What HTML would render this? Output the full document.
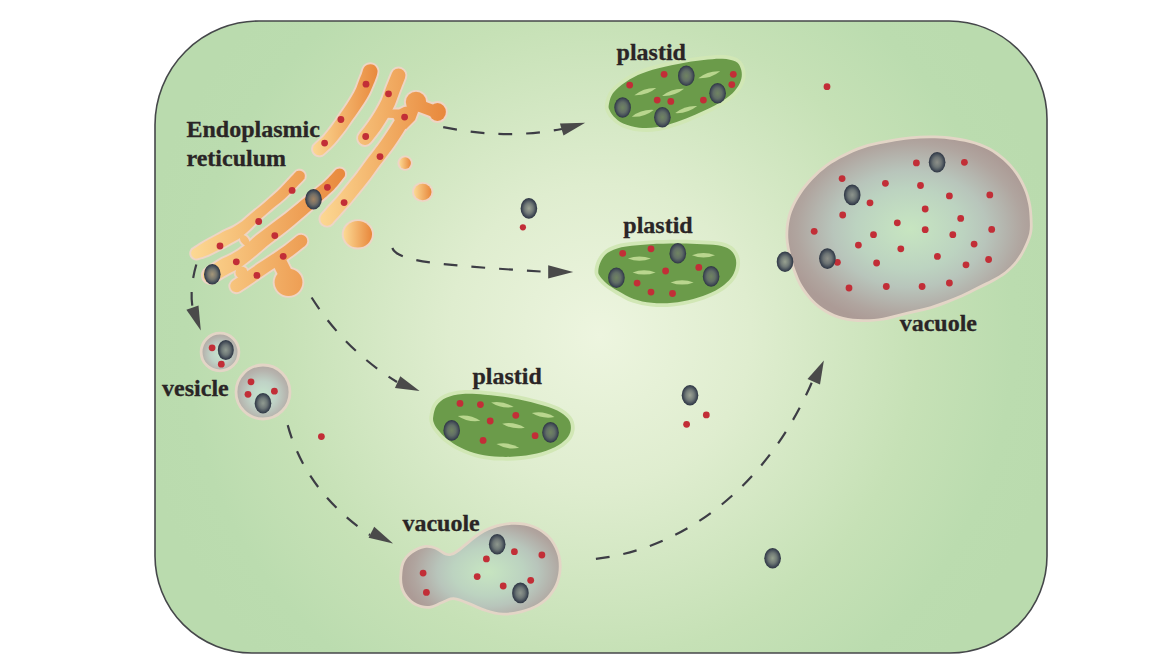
<!DOCTYPE html>
<html><head><meta charset="utf-8"><title>Cell diagram</title>
<style>html,body{margin:0;padding:0;background:#fff;}svg{display:block;font-family:"Liberation Serif",serif;}</style>
</head><body>
<svg width="1161" height="670" viewBox="0 0 1161 670">
<defs>
<radialGradient id="bg" gradientUnits="userSpaceOnUse" cx="600" cy="335" r="470">
  <stop offset="0" stop-color="#edf5df"/>
  <stop offset="0.32" stop-color="#dfedcf"/>
  <stop offset="0.68" stop-color="#c6e1b6"/>
  <stop offset="0.88" stop-color="#bbdcaf"/>
  <stop offset="1" stop-color="#badbae"/>
</radialGradient>
<radialGradient id="gran" cx="0.5" cy="0.5" r="0.5">
  <stop offset="0" stop-color="#727570" stop-opacity="0.62"/>
  <stop offset="0.5" stop-color="#60686a" stop-opacity="0.86"/>
  <stop offset="0.82" stop-color="#434c57"/>
  <stop offset="1" stop-color="#2d3542"/>
</radialGradient>
<linearGradient id="er" x1="0" y1="0.5" x2="1" y2="0.5">
  <stop offset="0" stop-color="#fcd994"/>
  <stop offset="1" stop-color="#e8873b"/>
</linearGradient>
<linearGradient id="erA" gradientUnits="userSpaceOnUse" x1="311" y1="0" x2="379" y2="0">
  <stop offset="0" stop-color="#fcd994"/>
  <stop offset="1" stop-color="#e8873b"/>
</linearGradient>
<linearGradient id="erB" gradientUnits="userSpaceOnUse" x1="318" y1="0" x2="447" y2="0">
  <stop offset="0" stop-color="#fcd994"/>
  <stop offset="1" stop-color="#e8873b"/>
</linearGradient>
<linearGradient id="erL" gradientUnits="userSpaceOnUse" x1="190" y1="0" x2="348" y2="0">
  <stop offset="0" stop-color="#fcd994"/>
  <stop offset="1" stop-color="#e8873b"/>
</linearGradient>
<radialGradient id="vac" gradientUnits="userSpaceOnUse" cx="910" cy="229" r="128" gradientTransform="translate(910 229) scale(1 0.76) translate(-910 -229)">
  <stop offset="0" stop-color="#c7e5c0"/>
  <stop offset="0.15" stop-color="#c3dfc1"/>
  <stop offset="0.42" stop-color="#bcd3c0"/>
  <stop offset="0.6" stop-color="#b8c5bb"/>
  <stop offset="0.75" stop-color="#b4b4ad"/>
  <stop offset="0.88" stop-color="#b0a59f"/>
  <stop offset="1" stop-color="#ac9b96"/>
</radialGradient>
<radialGradient id="vac2" gradientUnits="userSpaceOnUse" cx="488" cy="572" r="84" gradientTransform="translate(488 572) scale(1 0.68) translate(-488 -572)">
  <stop offset="0" stop-color="#c7e5c0"/>
  <stop offset="0.15" stop-color="#c3dfc1"/>
  <stop offset="0.42" stop-color="#bcd3c0"/>
  <stop offset="0.6" stop-color="#b8c5bb"/>
  <stop offset="0.75" stop-color="#b4b4ad"/>
  <stop offset="0.88" stop-color="#b0a59f"/>
  <stop offset="1" stop-color="#ac9b96"/>
</radialGradient>
<radialGradient id="ves" cx="0.5" cy="0.55" r="0.55">
  <stop offset="0" stop-color="#c6e4cc"/>
  <stop offset="0.45" stop-color="#bfd2c6"/>
  <stop offset="0.8" stop-color="#b6b4ae"/>
  <stop offset="1" stop-color="#b1a8a2"/>
</radialGradient>
</defs>
<path d="M259,21 L949,21 A98,98 0 0 1 1047,119 L1047,556 A97,97 0 0 1 950,653 L252,653 A97,97 0 0 1 155,556 L155,125 A104,104 0 0 1 259,21Z" fill="url(#bg)" stroke="#45474a" stroke-width="1.6"/>
<g><path d="M381,111 L392,109.5 L399,109.5 L404,107 L410,106 L418,112 L415,120 L406,129 L398,126 L393.5,118 L382,117.5Z" fill="#eed5c5" stroke="#eed5c5" stroke-width="3.8" stroke-linejoin="round"/>
<path d="M324.9,155.0 C327.2,153.1 331.9,149.0 335.5,145.0 C339.1,141.0 343.7,134.9 346.7,131.0 C349.7,127.1 351.3,124.4 353.5,121.3 C355.6,118.3 357.6,115.7 359.6,112.8 C361.6,109.9 363.7,106.9 365.5,104.0 C367.3,101.1 369.1,98.4 370.6,95.4 C372.1,92.5 373.4,89.2 374.6,86.5 C375.7,83.8 376.7,81.2 377.5,79.2 C378.2,77.1 378.7,75.8 379.0,74.2 C379.3,72.7 379.5,71.5 379.3,70.1 C379.2,68.8 378.6,67.4 377.9,66.3 C377.1,65.2 376.0,64.2 374.8,63.5 C373.7,62.8 372.2,62.4 370.9,62.3 C369.6,62.2 368.1,62.4 366.8,62.9 C365.6,63.4 364.3,64.2 363.4,65.2 C362.5,66.2 361.9,67.5 361.4,68.8 C360.8,70.0 360.8,71.0 360.1,72.8 C359.5,74.6 358.4,77.1 357.4,79.5 C356.5,82.0 355.6,85.0 354.4,87.6 C353.2,90.1 352.0,92.4 350.5,95.0 C349.0,97.6 347.2,100.4 345.4,103.2 C343.5,106.0 341.5,108.7 339.5,111.7 C337.5,114.6 336.0,117.3 333.3,121.0 C330.6,124.7 326.6,130.3 323.3,134.0 C320.0,137.7 315.6,141.1 313.7,143.2 C311.7,145.2 312.1,145.1 311.6,146.2 C311.2,147.3 311.0,148.6 311.1,149.8 C311.2,151.0 311.6,152.3 312.2,153.3 C312.9,154.3 313.8,155.3 314.8,155.9 C315.8,156.6 317.0,157.1 318.2,157.2 C319.4,157.4 320.7,157.3 321.8,156.9 C322.9,156.5 322.7,157.0 324.9,155.0Z" fill="#eed5c5"/>
<path d="M215.5,283.4 C218.4,281.9 224.6,278.1 228.9,275.7 C233.3,273.3 237.3,271.6 241.6,268.8 C245.9,266.0 250.3,262.4 254.7,258.8 C259.2,255.2 263.7,250.9 268.3,247.2 C272.9,243.5 277.9,239.9 282.5,236.4 C287.1,232.9 291.4,229.4 295.6,225.9 C299.8,222.5 303.7,219.1 307.6,215.7 C311.5,212.3 314.7,209.5 318.9,205.8 C323.1,202.0 329.3,196.6 332.8,193.2 C336.3,189.9 337.7,188.1 339.7,185.7 C341.8,183.3 344.1,180.5 345.2,178.8 C346.4,177.2 346.5,176.9 346.8,175.9 C347.0,174.8 347.1,173.6 346.9,172.5 C346.6,171.5 346.1,170.4 345.5,169.5 C344.8,168.6 343.9,167.8 342.9,167.3 C342.0,166.8 340.8,166.5 339.7,166.5 C338.6,166.5 337.4,166.7 336.4,167.2 C335.5,167.6 335.1,167.8 333.8,169.2 C332.4,170.5 330.2,173.2 328.3,175.3 C326.3,177.3 325.4,178.5 322.0,181.4 C318.6,184.3 312.1,189.4 307.9,192.8 C303.6,196.3 300.3,199.1 296.4,202.3 C292.5,205.5 288.6,208.6 284.4,211.9 C280.2,215.1 275.9,218.3 271.3,221.8 C266.7,225.3 261.4,229.0 256.7,232.8 C252.0,236.5 247.5,241.0 243.3,244.2 C239.0,247.5 235.4,249.9 231.4,252.2 C227.3,254.6 223.4,255.8 219.1,258.3 C214.7,260.8 208.3,265.2 205.5,267.2 C202.8,269.2 203.2,269.0 202.5,270.2 C201.8,271.3 201.2,272.8 201.1,274.1 C200.9,275.5 201.1,277.0 201.5,278.4 C201.9,279.7 202.8,281.0 203.7,282.0 C204.7,282.9 206.0,283.8 207.3,284.2 C208.6,284.7 210.1,284.9 211.5,284.8 C212.8,284.6 212.6,284.9 215.5,283.4Z" fill="#eed5c5"/>
<path d="M199.6,259.8 C201.7,259.2 204.9,258.4 208.8,256.7 C212.7,255.0 219.2,251.6 223.1,249.6 C227.0,247.6 229.1,246.5 232.1,244.7 C235.2,243.0 238.3,241.5 241.4,239.3 C244.6,237.0 247.9,234.0 250.8,231.2 C253.8,228.5 256.3,225.4 259.2,222.7 C262.0,220.0 264.8,217.7 267.8,215.1 C270.7,212.6 273.7,210.0 276.8,207.4 C279.8,204.9 283.0,202.6 286.1,199.8 C289.1,197.1 292.1,194.2 295.2,191.1 C298.3,187.9 302.9,183.1 304.8,181.0 C306.6,178.9 306.1,179.2 306.4,178.2 C306.7,177.2 306.8,176.0 306.7,175.0 C306.5,174.0 306.1,172.9 305.5,172.0 C305.0,171.1 304.1,170.3 303.2,169.8 C302.3,169.2 301.2,168.9 300.1,168.8 C299.1,168.7 297.9,168.8 296.9,169.2 C296.0,169.6 296.3,169.1 294.2,171.0 C292.2,173.0 287.8,177.9 284.8,180.9 C281.9,184.0 279.3,186.9 276.5,189.6 C273.7,192.3 270.9,194.6 268.0,197.2 C265.1,199.7 262.1,202.3 259.0,204.9 C256.0,207.4 252.8,209.8 249.8,212.3 C246.9,214.8 244.0,217.6 241.2,219.8 C238.3,222.0 235.4,223.8 232.6,225.3 C229.7,226.9 226.8,227.8 223.9,229.3 C220.9,230.7 218.7,232.1 214.9,234.2 C211.1,236.2 204.8,239.6 201.2,241.7 C197.6,243.8 195.1,245.6 193.4,246.8 C191.6,247.9 191.5,248.0 190.8,248.8 C190.2,249.6 189.7,250.7 189.4,251.7 C189.2,252.7 189.2,253.9 189.4,254.9 C189.7,255.9 190.2,257.0 190.8,257.8 C191.5,258.6 192.4,259.4 193.4,259.8 C194.3,260.3 195.5,260.6 196.5,260.5 C197.6,260.5 197.6,260.5 199.6,259.8Z" fill="#eed5c5"/>
<ellipse cx="244.7" cy="240.3" rx="8.1" ry="5.699999999999999" transform="rotate(53 244.7 240.3)" fill="#eed5c5"/>
<path d="M398.5,75.5 C398.0,76.8 396.6,80.2 395.5,83.0 C394.4,85.8 393.2,88.7 392.0,92.0 C390.8,95.3 389.7,99.1 388.0,102.8 C386.3,106.5 384.2,110.3 382.0,114.0 C379.8,117.7 377.2,121.8 375.0,125.0 C372.8,128.2 370.7,130.8 369.0,133.0 C367.3,135.2 365.7,137.2 365.0,138.0" fill="none" stroke="#eed5c5" stroke-width="17.8" stroke-linecap="round" stroke-linejoin="round"/>
<path d="M404.0,118.0 C402.7,120.2 399.1,126.2 396.0,131.0 C392.9,135.8 389.2,141.4 385.5,146.5 C381.8,151.6 377.8,156.4 374.0,161.5 C370.2,166.6 365.9,172.8 362.7,177.0 C359.5,181.2 358.1,182.7 355.0,186.5 C351.9,190.3 347.3,196.1 344.0,200.0 C340.7,203.9 337.8,206.8 335.0,210.0 C332.2,213.2 328.3,217.5 327.0,219.0" fill="none" stroke="#eed5c5" stroke-width="17.2" stroke-linecap="round" stroke-linejoin="round"/>
<path d="M420.0,106.0 C422.7,107.0 433.3,111.0 436.0,112.0" fill="none" stroke="#eed5c5" stroke-width="15.8" stroke-linecap="round" stroke-linejoin="round"/>
<path d="M236.5,286.0 C238.8,284.5 245.6,280.0 250.0,277.0 C254.4,274.0 258.7,270.9 263.0,268.0 C267.3,265.1 271.7,262.4 276.0,259.5 C280.3,256.6 284.8,253.6 289.0,250.5 C293.2,247.4 299.0,242.6 301.0,241.0" fill="none" stroke="#eed5c5" stroke-width="16.3" stroke-linecap="round" stroke-linejoin="round"/>
<path d="M280.0,263.0 C281.3,265.7 286.7,276.3 288.0,279.0" fill="none" stroke="#eed5c5" stroke-width="17.8" stroke-linecap="round" stroke-linejoin="round"/>
<ellipse cx="437.5" cy="112" rx="10.3" ry="10.9" fill="#eed5c5"/>
<ellipse cx="416" cy="102" rx="12.1" ry="12.1" fill="#eed5c5"/>
<ellipse cx="288.5" cy="282.3" rx="15.8" ry="15.5" fill="#eed5c5"/>
<ellipse cx="241.5" cy="272.5" rx="7.9" ry="7.9" fill="#eed5c5"/>
<ellipse cx="405.1" cy="163.1" rx="7.699999999999999" ry="7.699999999999999" fill="#eed5c5"/>
<ellipse cx="422.7" cy="192" rx="10.700000000000001" ry="10.1" fill="#eed5c5"/>
<ellipse cx="357.8" cy="234.3" rx="16.099999999999998" ry="15.1" fill="#eed5c5"/>
<path d="M398.5,75.5 C398.0,76.8 396.6,80.2 395.5,83.0 C394.4,85.8 393.2,88.7 392.0,92.0 C390.8,95.3 389.7,99.1 388.0,102.8 C386.3,106.5 384.2,110.3 382.0,114.0 C379.8,117.7 377.2,121.8 375.0,125.0 C372.8,128.2 370.7,130.8 369.0,133.0 C367.3,135.2 365.7,137.2 365.0,138.0" fill="none" stroke="url(#erB)" stroke-width="14" stroke-linecap="round" stroke-linejoin="round"/>
<path d="M404.0,118.0 C402.7,120.2 399.1,126.2 396.0,131.0 C392.9,135.8 389.2,141.4 385.5,146.5 C381.8,151.6 377.8,156.4 374.0,161.5 C370.2,166.6 365.9,172.8 362.7,177.0 C359.5,181.2 358.1,182.7 355.0,186.5 C351.9,190.3 347.3,196.1 344.0,200.0 C340.7,203.9 337.8,206.8 335.0,210.0 C332.2,213.2 328.3,217.5 327.0,219.0" fill="none" stroke="url(#erB)" stroke-width="13.4" stroke-linecap="round" stroke-linejoin="round"/>
<path d="M420.0,106.0 C422.7,107.0 433.3,111.0 436.0,112.0" fill="none" stroke="url(#erB)" stroke-width="12" stroke-linecap="round" stroke-linejoin="round"/>
<path d="M236.5,286.0 C238.8,284.5 245.6,280.0 250.0,277.0 C254.4,274.0 258.7,270.9 263.0,268.0 C267.3,265.1 271.7,262.4 276.0,259.5 C280.3,256.6 284.8,253.6 289.0,250.5 C293.2,247.4 299.0,242.6 301.0,241.0" fill="none" stroke="url(#erL)" stroke-width="12.5" stroke-linecap="round" stroke-linejoin="round"/>
<path d="M280.0,263.0 C281.3,265.7 286.7,276.3 288.0,279.0" fill="none" stroke="url(#erL)" stroke-width="14" stroke-linecap="round" stroke-linejoin="round"/>
<ellipse cx="437.5" cy="112" rx="8.4" ry="9" fill="url(#erB)"/>
<ellipse cx="416" cy="102" rx="10.2" ry="10.2" fill="url(#erB)"/>
<ellipse cx="288.5" cy="282.3" rx="13.9" ry="13.6" fill="url(#erL)"/>
<ellipse cx="241.5" cy="272.5" rx="6" ry="6" fill="url(#erL)"/>
<ellipse cx="405.1" cy="163.1" rx="5.8" ry="5.8" fill="url(#er)"/>
<ellipse cx="422.7" cy="192" rx="8.8" ry="8.2" fill="url(#er)"/>
<ellipse cx="357.8" cy="234.3" rx="14.2" ry="13.2" fill="url(#er)"/>
<path d="M381,111 L392,109.5 L399,109.5 L404,107 L410,106 L418,112 L415,120 L406,129 L398,126 L393.5,118 L382,117.5Z" fill="url(#erB)"/>
<path d="M323.6,153.7 C325.8,151.8 330.5,147.7 334.1,143.7 C337.7,139.7 342.2,133.8 345.2,129.9 C348.2,126.0 349.8,123.3 351.9,120.3 C354.1,117.2 356.1,114.6 358.0,111.8 C360.0,108.9 362.1,105.9 363.9,103.1 C365.7,100.2 367.4,97.5 368.9,94.6 C370.4,91.7 371.7,88.4 372.8,85.8 C373.9,83.1 375.0,80.5 375.7,78.5 C376.4,76.5 376.9,75.0 377.2,73.7 C377.5,72.3 377.6,71.5 377.5,70.4 C377.3,69.4 376.9,68.3 376.3,67.4 C375.7,66.5 374.8,65.7 373.9,65.1 C373.0,64.6 371.8,64.3 370.8,64.2 C369.7,64.1 368.5,64.3 367.5,64.7 C366.5,65.0 365.5,65.7 364.8,66.5 C364.1,67.3 363.7,68.2 363.2,69.3 C362.7,70.5 362.6,71.7 361.9,73.5 C361.2,75.3 360.2,77.7 359.2,80.2 C358.2,82.7 357.3,85.8 356.1,88.4 C354.9,91.0 353.7,93.3 352.1,95.9 C350.6,98.6 348.8,101.4 347.0,104.2 C345.1,107.0 343.1,109.8 341.1,112.7 C339.1,115.7 337.5,118.4 334.8,122.1 C332.1,125.9 328.0,131.6 324.7,135.3 C321.4,139.0 316.8,142.6 315.0,144.5 C313.1,146.5 313.7,146.0 313.4,146.9 C313.1,147.7 312.9,148.7 313.0,149.6 C313.1,150.6 313.4,151.5 313.9,152.3 C314.3,153.1 315.1,153.8 315.8,154.3 C316.6,154.9 317.5,155.2 318.4,155.3 C319.3,155.5 320.4,155.4 321.2,155.1 C322.1,154.8 321.5,155.6 323.6,153.7Z" fill="url(#erA)"/>
<path d="M214.5,281.8 C217.3,280.3 223.6,276.5 228.0,274.0 C232.4,271.6 236.4,270.0 240.6,267.2 C244.9,264.4 249.1,260.8 253.6,257.3 C258.0,253.7 262.5,249.5 267.1,245.7 C271.7,242.0 276.8,238.4 281.3,234.9 C285.9,231.3 290.3,227.9 294.4,224.4 C298.6,221.0 302.5,217.6 306.4,214.3 C310.3,210.9 313.5,208.1 317.7,204.3 C321.9,200.6 328.1,195.1 331.5,191.8 C335.0,188.5 336.3,186.8 338.3,184.4 C340.4,182.1 342.7,179.1 343.8,177.6 C344.9,176.1 344.7,176.2 344.9,175.4 C345.1,174.6 345.2,173.7 345.0,172.9 C344.8,172.1 344.5,171.3 344.0,170.6 C343.5,170.0 342.8,169.4 342.1,169.0 C341.4,168.7 340.5,168.4 339.7,168.4 C338.9,168.4 338.0,168.6 337.2,168.9 C336.5,169.2 336.5,169.1 335.2,170.4 C334.0,171.7 331.7,174.5 329.7,176.6 C327.7,178.6 326.7,179.8 323.3,182.8 C319.9,185.7 313.4,190.8 309.1,194.3 C304.8,197.8 301.5,200.6 297.6,203.7 C293.7,206.9 289.8,210.1 285.6,213.4 C281.4,216.6 277.1,219.8 272.5,223.3 C267.8,226.8 262.6,230.5 257.9,234.3 C253.2,238.0 248.7,242.5 244.4,245.7 C240.2,249.0 236.4,251.5 232.4,253.8 C228.3,256.2 224.3,257.5 220.0,260.0 C215.7,262.5 209.2,267.0 206.5,268.8 C203.9,270.7 204.7,270.3 204.1,271.2 C203.5,272.1 203.1,273.3 203.0,274.4 C202.8,275.5 202.9,276.7 203.3,277.7 C203.7,278.8 204.3,279.8 205.1,280.6 C205.8,281.4 206.9,282.1 207.9,282.4 C209.0,282.8 210.2,283.0 211.3,282.9 C212.4,282.7 211.7,283.2 214.5,281.8Z" fill="url(#erL)"/>
<path d="M198.8,258.1 C200.7,257.5 204.0,256.7 207.9,255.0 C211.8,253.3 218.3,249.9 222.2,248.0 C226.1,246.0 228.2,244.8 231.2,243.0 C234.3,241.3 237.4,239.9 240.4,237.7 C243.5,235.4 246.7,232.5 249.6,229.8 C252.5,227.1 255.1,224.0 257.9,221.3 C260.7,218.6 263.6,216.3 266.5,213.7 C269.5,211.1 272.5,208.5 275.6,206.0 C278.6,203.4 281.7,201.2 284.8,198.4 C287.8,195.7 290.7,192.9 293.8,189.7 C296.9,186.6 301.6,181.7 303.4,179.7 C305.2,177.7 304.4,178.4 304.6,177.6 C304.8,176.9 304.9,176.0 304.8,175.3 C304.7,174.5 304.4,173.7 304.0,173.0 C303.5,172.4 302.9,171.8 302.2,171.4 C301.6,171.0 300.7,170.7 300.0,170.7 C299.2,170.6 298.3,170.7 297.6,171.0 C296.9,171.3 297.5,170.4 295.6,172.3 C293.7,174.2 289.1,179.2 286.2,182.3 C283.2,185.4 280.7,188.2 277.8,191.0 C275.0,193.7 272.2,196.1 269.2,198.6 C266.3,201.2 263.3,203.8 260.3,206.3 C257.2,208.8 254.1,211.2 251.1,213.7 C248.1,216.2 245.3,219.0 242.4,221.2 C239.5,223.4 236.5,225.3 233.6,226.9 C230.6,228.6 227.7,229.5 224.8,231.0 C221.8,232.4 219.6,233.8 215.8,235.8 C212.0,237.9 205.7,241.3 202.1,243.4 C198.5,245.5 195.8,247.4 194.2,248.5 C192.6,249.6 192.8,249.4 192.3,250.0 C191.8,250.6 191.5,251.4 191.3,252.1 C191.1,252.9 191.1,253.7 191.3,254.5 C191.5,255.2 191.8,256.0 192.3,256.6 C192.8,257.2 193.5,257.8 194.2,258.1 C194.9,258.5 195.7,258.7 196.5,258.6 C197.3,258.6 196.9,258.7 198.8,258.1Z" fill="url(#erL)"/>
<ellipse cx="244.7" cy="240.3" rx="6.2" ry="3.8" transform="rotate(53 244.7 240.3)" fill="url(#erL)"/></g>
<circle cx="366" cy="84.2" r="3.4" fill="#c22e37"/>
<circle cx="340.9" cy="119.5" r="3.4" fill="#c22e37"/>
<circle cx="324.6" cy="143.1" r="3.4" fill="#c22e37"/>
<circle cx="388.5" cy="93.8" r="3.4" fill="#c22e37"/>
<circle cx="365.7" cy="136.5" r="3.4" fill="#c22e37"/>
<circle cx="404.6" cy="117.1" r="3.4" fill="#c22e37"/>
<circle cx="380" cy="156.6" r="3.4" fill="#c22e37"/>
<circle cx="344.1" cy="202.6" r="3.4" fill="#c22e37"/>
<circle cx="327.4" cy="187.3" r="3.4" fill="#c22e37"/>
<circle cx="274.8" cy="235.6" r="3.4" fill="#c22e37"/>
<circle cx="236.3" cy="261.8" r="3.4" fill="#c22e37"/>
<circle cx="292.1" cy="190.4" r="3.4" fill="#c22e37"/>
<circle cx="258.7" cy="221.5" r="3.4" fill="#c22e37"/>
<circle cx="220" cy="246" r="3.4" fill="#c22e37"/>
<circle cx="283.2" cy="256.3" r="3.4" fill="#c22e37"/>
<circle cx="256.9" cy="275.4" r="3.4" fill="#c22e37"/>
<ellipse cx="313.5" cy="199.3" rx="8.3" ry="10.3" fill="url(#gran)"/>
<ellipse cx="212.3" cy="274.3" rx="8.3" ry="10.3" fill="url(#gran)"/>
<g><path d="M605.0,104.2 C605.4,101.3 606.4,96.8 608.3,93.5 C610.2,90.2 612.4,87.6 616.3,84.3 C620.2,81.0 626.1,76.8 631.9,73.8 C637.8,70.7 643.9,68.3 651.5,66.0 C659.0,63.8 668.7,61.8 677.4,60.2 C686.0,58.6 695.7,57.2 703.3,56.3 C710.9,55.4 717.1,54.7 722.7,55.0 C728.4,55.3 733.8,56.4 737.4,58.3 C740.9,60.2 742.8,63.3 744.1,66.5 C745.5,69.6 745.9,73.6 745.5,77.2 C745.1,80.8 743.7,84.4 741.5,87.9 C739.3,91.5 736.4,94.9 732.3,98.4 C728.2,101.9 722.5,105.5 716.7,108.8 C710.8,112.1 703.7,115.1 697.2,117.9 C690.7,120.7 684.3,123.5 677.8,125.7 C671.3,127.8 664.7,129.9 658.2,130.9 C651.7,131.9 644.8,132.2 638.7,131.5 C632.6,130.8 626.3,129.0 621.7,126.9 C617.1,124.9 613.7,121.7 611.0,119.1 C608.4,116.4 606.8,113.5 605.8,111.0 C604.8,108.5 604.6,107.1 605.0,104.2Z" fill="#d1e7b5"/>
<path d="M608.8,104.7 C609.2,102.4 610.0,98.3 611.6,95.4 C613.3,92.5 615.0,90.2 618.7,87.2 C622.4,84.2 628.0,80.1 633.7,77.2 C639.3,74.2 645.2,71.9 652.6,69.7 C660.0,67.5 669.5,65.5 678.1,63.9 C686.6,62.3 696.3,60.9 703.7,60.1 C711.2,59.2 717.2,58.5 722.5,58.8 C727.8,59.1 732.6,60.1 735.6,61.6 C738.6,63.2 739.6,65.5 740.6,68.0 C741.7,70.5 742.1,73.7 741.7,76.7 C741.3,79.7 740.2,82.8 738.3,85.9 C736.3,89.0 733.8,92.2 729.9,95.5 C726.0,98.8 720.5,102.3 714.8,105.5 C709.1,108.6 702.1,111.7 695.7,114.4 C689.3,117.2 682.9,119.9 676.6,122.1 C670.2,124.2 663.9,126.2 657.7,127.1 C651.4,128.1 644.9,128.3 639.1,127.7 C633.4,127.1 627.5,125.4 623.2,123.5 C619.0,121.6 616.0,118.7 613.7,116.4 C611.4,114.1 610.1,111.5 609.3,109.6 C608.5,107.6 608.4,107.1 608.8,104.7Z" fill="#6b9b4a"/>
<path d="M-11.5,0 Q0,-4.4 11.5,0 Q0,4.4 -11.5,0Z" fill="#b9d68e" transform="translate(645.3,91.6) rotate(-18.5)"/>
<path d="M-11.5,0 Q0,-4.4 11.5,0 Q0,4.4 -11.5,0Z" fill="#b9d68e" transform="translate(673.1,92.4) rotate(-18)"/>
<path d="M-11.5,0 Q0,-4.4 11.5,0 Q0,4.4 -11.5,0Z" fill="#b9d68e" transform="translate(709.2,74.7) rotate(-17.7)"/>
<path d="M-11.5,0 Q0,-4.4 11.5,0 Q0,4.4 -11.5,0Z" fill="#b9d68e" transform="translate(642.8,113.3) rotate(-17)"/>
<path d="M-11.5,0 Q0,-4.4 11.5,0 Q0,4.4 -11.5,0Z" fill="#b9d68e" transform="translate(686.2,109.6) rotate(-17.8)"/>
<circle cx="664.1" cy="74.3" r="3.4" fill="#c22e37"/>
<circle cx="629.7" cy="85.1" r="3.4" fill="#c22e37"/>
<circle cx="733.3" cy="74.3" r="3.4" fill="#c22e37"/>
<circle cx="731.8" cy="84.6" r="3.4" fill="#c22e37"/>
<circle cx="657.2" cy="100.1" r="3.4" fill="#c22e37"/>
<circle cx="670.8" cy="101.4" r="3.4" fill="#c22e37"/>
<circle cx="703.4" cy="100.1" r="3.4" fill="#c22e37"/>
<ellipse cx="686.3" cy="75.8" rx="8.3" ry="10.3" fill="url(#gran)"/>
<ellipse cx="717.6" cy="93.3" rx="8.3" ry="10.3" fill="url(#gran)"/>
<ellipse cx="622.6" cy="107.5" rx="8.3" ry="10.3" fill="url(#gran)"/>
<ellipse cx="662.4" cy="117.2" rx="8.3" ry="10.3" fill="url(#gran)"/></g>
<g><path d="M594.5,271.0 C594.6,268.0 595.5,263.6 597.3,260.0 C599.1,256.5 601.7,252.5 605.5,249.7 C609.4,247.0 614.2,245.0 620.5,243.5 C626.8,242.0 635.1,241.5 643.3,240.9 C651.6,240.3 661.2,239.9 670.1,239.8 C679.0,239.7 688.8,239.9 696.8,240.2 C704.9,240.5 712.5,240.5 718.3,241.5 C724.2,242.5 728.5,243.9 732.0,246.3 C735.4,248.8 737.7,252.7 739.0,256.1 C740.2,259.6 740.3,263.5 739.7,267.1 C739.1,270.8 737.7,274.7 735.6,278.1 C733.4,281.6 730.4,284.8 726.7,287.7 C723.0,290.7 718.5,293.4 713.1,295.8 C707.7,298.3 701.0,300.8 694.3,302.6 C687.6,304.4 680.0,305.9 672.9,306.6 C665.7,307.3 658.1,307.3 651.3,306.6 C644.6,305.9 638.3,304.6 632.4,302.6 C626.6,300.5 621.0,297.1 616.3,294.4 C611.6,291.7 607.5,289.0 604.2,286.3 C600.9,283.6 598.2,280.7 596.6,278.1 C595.0,275.6 594.4,274.0 594.5,271.0Z" fill="#d1e7b5"/>
<path d="M598.3,271.1 C598.4,268.7 599.1,264.8 600.7,261.8 C602.2,258.7 604.3,255.3 607.7,252.8 C611.2,250.4 615.4,248.6 621.4,247.2 C627.4,245.9 635.5,245.3 643.6,244.7 C651.8,244.1 661.3,243.7 670.1,243.6 C679.0,243.5 688.8,243.7 696.7,244.0 C704.6,244.3 712.2,244.3 717.7,245.3 C723.2,246.2 726.8,247.4 729.8,249.4 C732.7,251.5 734.4,254.6 735.4,257.4 C736.4,260.3 736.4,263.4 735.9,266.5 C735.4,269.7 734.3,273.1 732.4,276.1 C730.4,279.1 727.8,282.0 724.3,284.7 C720.9,287.5 716.7,290.0 711.5,292.4 C706.4,294.7 699.8,297.2 693.3,298.9 C686.8,300.6 679.5,302.2 672.5,302.8 C665.6,303.5 658.2,303.5 651.7,302.8 C645.2,302.2 639.3,300.9 633.7,299.0 C628.1,297.0 622.7,293.7 618.2,291.1 C613.7,288.5 609.7,285.9 606.6,283.4 C603.6,280.9 601.2,278.1 599.8,276.1 C598.5,274.1 598.2,273.5 598.3,271.1Z" fill="#6b9b4a"/>
<path d="M-11.5,0 Q0,-4.4 11.5,0 Q0,4.4 -11.5,0Z" fill="#b9d68e" transform="translate(639.4,258.6) rotate(0)"/>
<path d="M-11.5,0 Q0,-4.4 11.5,0 Q0,4.4 -11.5,0Z" fill="#b9d68e" transform="translate(644.1,272.4) rotate(0)"/>
<path d="M-11.5,0 Q0,-4.4 11.5,0 Q0,4.4 -11.5,0Z" fill="#b9d68e" transform="translate(703.5,255.3) rotate(0)"/>
<path d="M-11.5,0 Q0,-4.4 11.5,0 Q0,4.4 -11.5,0Z" fill="#b9d68e" transform="translate(682.1,282.4) rotate(0)"/>
<circle cx="622.7" cy="253.4" r="3.4" fill="#c22e37"/>
<circle cx="651" cy="248.8" r="3.4" fill="#c22e37"/>
<circle cx="665.6" cy="271" r="3.4" fill="#c22e37"/>
<circle cx="698.8" cy="267.4" r="3.4" fill="#c22e37"/>
<circle cx="637.1" cy="283.1" r="3.4" fill="#c22e37"/>
<circle cx="651" cy="292.1" r="3.4" fill="#c22e37"/>
<circle cx="672.5" cy="293.5" r="3.4" fill="#c22e37"/>
<ellipse cx="677.8" cy="253.3" rx="8.3" ry="10.3" fill="url(#gran)"/>
<ellipse cx="616.4" cy="277.7" rx="8.3" ry="10.3" fill="url(#gran)"/>
<ellipse cx="711.1" cy="276.4" rx="8.3" ry="10.3" fill="url(#gran)"/></g>
<g><path d="M429.5,415.6 C430.1,412.1 431.1,406.8 433.6,403.2 C436.2,399.7 439.9,396.4 444.7,394.3 C449.5,392.1 455.6,390.8 462.3,390.2 C469.1,389.6 476.9,390.2 485.2,390.9 C493.4,391.6 503.0,392.7 511.9,394.2 C520.9,395.8 530.9,398.1 538.7,400.2 C546.5,402.4 553.5,404.3 558.9,407.0 C564.3,409.7 568.5,413.1 571.1,416.5 C573.8,420.0 574.7,424.0 574.7,427.7 C574.7,431.4 573.6,435.4 571.2,438.9 C568.7,442.3 564.9,445.7 560.2,448.5 C555.5,451.3 549.2,454.0 542.7,455.9 C536.2,457.8 528.3,459.1 521.2,459.9 C514.0,460.7 506.9,460.9 499.8,460.6 C492.6,460.3 485.0,459.5 478.2,457.9 C471.5,456.3 465.0,453.8 459.4,451.1 C453.7,448.4 448.6,444.9 444.5,441.7 C440.5,438.6 437.5,435.2 435.1,432.2 C432.7,429.2 431.2,426.7 430.2,424.0 C429.3,421.2 428.9,419.0 429.5,415.6Z" fill="#d1e7b5"/>
<path d="M433.3,416.2 C433.7,413.3 434.6,408.5 436.7,405.4 C438.9,402.4 441.9,399.6 446.2,397.7 C450.6,395.8 456.2,394.5 462.6,394.0 C469.1,393.5 476.8,394.0 484.9,394.7 C493.0,395.4 502.5,396.4 511.3,398.0 C520.1,399.5 530.1,401.8 537.7,403.9 C545.4,406.0 552.1,407.9 557.2,410.4 C562.2,412.9 565.8,415.9 568.1,418.8 C570.4,421.7 570.9,424.7 570.9,427.7 C570.9,430.7 570.1,433.8 568.0,436.7 C565.9,439.6 562.7,442.6 558.3,445.2 C553.9,447.8 547.9,450.4 541.7,452.2 C535.4,454.0 527.7,455.4 520.8,456.1 C513.8,456.9 506.9,457.1 499.9,456.8 C493.0,456.5 485.6,455.7 479.1,454.2 C472.6,452.7 466.4,450.3 461.0,447.7 C455.6,445.1 450.7,441.7 446.8,438.7 C443.0,435.8 440.2,432.5 438.0,429.8 C435.9,427.2 434.6,425.0 433.8,422.7 C433.0,420.5 432.8,419.1 433.3,416.2Z" fill="#6b9b4a"/>
<path d="M-11.5,0 Q0,-4.4 11.5,0 Q0,4.4 -11.5,0Z" fill="#b9d68e" transform="translate(502.4,404.8) rotate(11.5)"/>
<path d="M-11.5,0 Q0,-4.4 11.5,0 Q0,4.4 -11.5,0Z" fill="#b9d68e" transform="translate(469.1,418.4) rotate(12)"/>
<path d="M-11.5,0 Q0,-4.4 11.5,0 Q0,4.4 -11.5,0Z" fill="#b9d68e" transform="translate(543.2,415) rotate(10)"/>
<path d="M-11.5,0 Q0,-4.4 11.5,0 Q0,4.4 -11.5,0Z" fill="#b9d68e" transform="translate(513.5,425.7) rotate(10)"/>
<path d="M-11.5,0 Q0,-4.4 11.5,0 Q0,4.4 -11.5,0Z" fill="#b9d68e" transform="translate(507.8,445.9) rotate(9.3)"/>
<circle cx="460" cy="403.4" r="3.4" fill="#c22e37"/>
<circle cx="480.4" cy="404.6" r="3.4" fill="#c22e37"/>
<circle cx="515.8" cy="415.3" r="3.4" fill="#c22e37"/>
<circle cx="490.2" cy="421" r="3.4" fill="#c22e37"/>
<circle cx="535.1" cy="435.7" r="3.4" fill="#c22e37"/>
<circle cx="483.1" cy="440.4" r="3.4" fill="#c22e37"/>
<ellipse cx="451.7" cy="430.4" rx="8.3" ry="10.3" fill="url(#gran)"/>
<ellipse cx="550.5" cy="432.4" rx="8.3" ry="10.3" fill="url(#gran)"/></g>
<path d="M785.5,238.0 C785.2,231.8 785.8,225.0 787.0,219.3 C788.2,213.6 790.0,208.8 792.5,203.6 C795.0,198.4 798.2,192.9 801.9,188.0 C805.6,183.1 809.8,178.3 814.5,173.9 C819.2,169.5 824.6,165.0 830.1,161.3 C835.6,157.6 841.0,154.8 847.3,151.9 C853.6,149.0 860.7,146.2 867.7,144.1 C874.8,142.0 882.6,140.7 889.6,139.4 C896.6,138.1 903.3,137.2 910.0,136.5 C916.7,135.8 923.3,135.5 930.0,135.5 C936.7,135.5 943.2,135.8 950.0,136.6 C956.8,137.4 963.9,138.4 970.5,140.2 C977.1,142.0 983.6,144.2 989.4,147.2 C995.1,150.2 1000.3,154.0 1005.0,158.2 C1009.7,162.4 1014.1,167.3 1017.6,172.3 C1021.1,177.3 1024.0,182.8 1026.2,188.0 C1028.4,193.2 1029.9,198.5 1030.9,203.7 C1032.0,208.9 1032.3,214.3 1032.5,219.4 C1032.7,224.5 1033.0,228.9 1031.8,234.0 C1030.6,239.1 1027.8,245.3 1025.4,250.1 C1023.0,254.9 1020.7,258.7 1017.6,262.6 C1014.5,266.5 1010.5,270.5 1006.6,273.6 C1002.7,276.7 998.8,278.8 994.1,281.4 C989.4,284.0 983.6,286.7 978.4,289.3 C973.2,291.9 967.9,294.8 962.7,297.1 C957.5,299.5 952.2,301.4 947.0,303.4 C941.8,305.4 936.6,307.3 931.4,308.9 C926.2,310.5 920.9,311.5 915.7,312.8 C910.5,314.1 905.4,315.2 900.0,316.5 C894.6,317.8 889.6,319.6 883.4,320.5 C877.2,321.4 869.8,322.2 863.0,322.1 C856.2,322.0 848.9,321.4 842.6,319.8 C836.3,318.2 830.6,315.7 825.4,312.7 C820.2,309.7 815.5,305.9 811.3,301.7 C807.1,297.5 803.4,292.6 800.4,287.6 C797.4,282.7 795.3,277.2 793.3,272.0 C791.3,266.8 789.9,262.0 788.6,256.3 C787.3,250.6 785.8,244.2 785.5,238.0Z" fill="#e3d5c6"/>
<path d="M788.3,237.9 C788.0,231.9 788.6,225.4 789.7,219.9 C790.9,214.3 792.6,209.8 795.0,204.8 C797.4,199.8 800.6,194.5 804.1,189.7 C807.7,184.9 811.8,180.3 816.4,175.9 C821.0,171.6 826.3,167.2 831.7,163.6 C837.0,160.0 842.3,157.3 848.5,154.4 C854.6,151.6 861.6,148.8 868.5,146.8 C875.4,144.7 883.1,143.4 890.1,142.2 C897.1,140.9 903.6,139.9 910.3,139.3 C916.9,138.6 923.4,138.3 930.0,138.3 C936.6,138.3 943.0,138.6 949.7,139.4 C956.3,140.1 963.4,141.2 969.8,142.9 C976.2,144.6 982.5,146.8 988.1,149.7 C993.7,152.6 998.6,156.3 1003.1,160.3 C1007.7,164.3 1011.9,169.1 1015.3,173.9 C1018.7,178.7 1021.5,184.0 1023.6,189.1 C1025.8,194.1 1027.1,199.2 1028.2,204.3 C1029.2,209.3 1029.5,214.6 1029.7,219.5 C1029.9,224.3 1030.2,228.5 1029.1,233.4 C1027.9,238.3 1025.2,244.3 1022.9,248.9 C1020.6,253.4 1018.4,257.1 1015.4,260.9 C1012.4,264.6 1008.6,268.4 1004.9,271.4 C1001.1,274.4 997.4,276.4 992.7,279.0 C988.1,281.5 982.3,284.2 977.1,286.8 C972.0,289.4 966.7,292.2 961.6,294.5 C956.4,296.9 951.2,298.8 946.0,300.8 C940.9,302.7 935.8,304.7 930.6,306.2 C925.4,307.8 920.2,308.8 915.0,310.1 C909.8,311.3 904.7,312.5 899.4,313.8 C894.0,315.1 889.0,316.8 883.0,317.7 C876.9,318.7 869.7,319.4 863.0,319.3 C856.4,319.2 849.3,318.6 843.3,317.1 C837.2,315.6 831.8,313.2 826.8,310.3 C821.8,307.4 817.3,303.7 813.3,299.7 C809.3,295.7 805.7,290.9 802.8,286.1 C799.9,281.4 797.8,276.1 795.9,271.0 C794.0,265.9 792.6,261.2 791.3,255.7 C790.1,250.2 788.6,243.8 788.3,237.9Z" fill="url(#vac)"/>
<circle cx="916.4" cy="162.9" r="3.4" fill="#c22e37"/>
<circle cx="964.4" cy="162.3" r="3.4" fill="#c22e37"/>
<circle cx="842.1" cy="178.6" r="3.4" fill="#c22e37"/>
<circle cx="885.4" cy="183.3" r="3.4" fill="#c22e37"/>
<circle cx="920.5" cy="185.5" r="3.4" fill="#c22e37"/>
<circle cx="949.4" cy="195.9" r="3.4" fill="#c22e37"/>
<circle cx="989.8" cy="194.9" r="3.4" fill="#c22e37"/>
<circle cx="870" cy="202.8" r="3.4" fill="#c22e37"/>
<circle cx="842.7" cy="215" r="3.4" fill="#c22e37"/>
<circle cx="925.2" cy="209" r="3.4" fill="#c22e37"/>
<circle cx="960.7" cy="218.4" r="3.4" fill="#c22e37"/>
<circle cx="897.3" cy="222.8" r="3.4" fill="#c22e37"/>
<circle cx="814.2" cy="231.3" r="3.4" fill="#c22e37"/>
<circle cx="873.5" cy="234.7" r="3.4" fill="#c22e37"/>
<circle cx="925.2" cy="229.7" r="3.4" fill="#c22e37"/>
<circle cx="952.8" cy="234.7" r="3.4" fill="#c22e37"/>
<circle cx="991.7" cy="229.4" r="3.4" fill="#c22e37"/>
<circle cx="858.4" cy="245.1" r="3.4" fill="#c22e37"/>
<circle cx="900.8" cy="248.8" r="3.4" fill="#c22e37"/>
<circle cx="974.1" cy="244.1" r="3.4" fill="#c22e37"/>
<circle cx="837.4" cy="262.3" r="3.4" fill="#c22e37"/>
<circle cx="876.6" cy="263" r="3.4" fill="#c22e37"/>
<circle cx="937.4" cy="256.4" r="3.4" fill="#c22e37"/>
<circle cx="966" cy="264.8" r="3.4" fill="#c22e37"/>
<circle cx="988.6" cy="259.5" r="3.4" fill="#c22e37"/>
<circle cx="849" cy="288" r="3.4" fill="#c22e37"/>
<circle cx="886.3" cy="286.5" r="3.4" fill="#c22e37"/>
<circle cx="922.1" cy="286.5" r="3.4" fill="#c22e37"/>
<circle cx="949.4" cy="283" r="3.4" fill="#c22e37"/>
<ellipse cx="937.1" cy="162.3" rx="8.3" ry="10.3" fill="url(#gran)"/>
<ellipse cx="852.2" cy="194.9" rx="8.3" ry="10.3" fill="url(#gran)"/>
<ellipse cx="827.4" cy="258.6" rx="8.3" ry="10.3" fill="url(#gran)"/>
<ellipse cx="785" cy="261.7" rx="8.3" ry="10.3" fill="url(#gran)"/>
<path d="M399.4,575.2 C399.7,570.9 400.1,565.5 402.0,561.5 C403.9,557.5 406.9,553.9 410.6,551.2 C414.3,548.5 420.0,545.9 424.3,545.2 C428.6,544.5 432.6,545.6 436.3,546.9 C440.0,548.2 443.7,552.0 446.6,552.9 C449.5,553.8 450.6,553.4 453.5,552.0 C456.4,550.6 459.5,547.6 463.8,544.3 C468.1,541.0 473.8,535.6 479.2,532.3 C484.6,529.0 490.4,526.3 496.4,524.6 C502.4,522.9 509.0,521.9 515.3,522.0 C521.6,522.1 528.4,523.1 534.1,525.4 C539.8,527.7 545.5,531.4 549.6,535.7 C553.8,540.0 557.0,546.1 559.0,551.2 C561.0,556.4 561.6,561.5 561.6,566.6 C561.6,571.8 560.7,577.2 559.0,582.1 C557.3,587.0 554.6,591.8 551.3,595.8 C548.0,599.8 544.2,603.2 539.3,606.1 C534.4,609.0 528.1,611.4 522.1,613.0 C516.1,614.6 509.2,615.6 503.2,615.5 C497.2,615.4 492.1,614.0 486.1,612.1 C480.1,610.2 472.6,606.4 467.2,604.4 C461.8,602.4 457.5,600.2 453.5,600.1 C449.5,600.0 447.2,602.1 443.2,603.5 C439.2,604.9 434.1,608.3 429.5,608.7 C424.9,609.1 419.7,608.0 415.7,606.1 C411.7,604.2 408.0,600.6 405.4,597.5 C402.8,594.4 401.3,590.9 400.3,587.2 C399.3,583.5 399.1,579.5 399.4,575.2Z" fill="#e3d5c6"/>
<path d="M402.2,575.4 C402.4,571.4 402.9,566.3 404.5,562.7 C406.2,559.0 408.9,555.9 412.3,553.5 C415.6,551.0 420.9,548.6 424.8,548.0 C428.6,547.3 431.9,548.3 435.4,549.5 C438.9,550.8 442.6,554.8 445.8,555.6 C449.0,556.4 451.5,556.0 454.8,554.5 C458.0,553.0 461.2,549.8 465.5,546.5 C469.8,543.2 475.4,537.9 480.6,534.7 C485.9,531.5 491.4,528.9 497.2,527.3 C502.9,525.6 509.3,524.7 515.2,524.8 C521.2,524.9 527.7,525.9 533.1,528.0 C538.5,530.1 543.7,533.6 547.6,537.6 C551.5,541.7 554.5,547.4 556.4,552.2 C558.3,557.0 558.8,561.8 558.8,566.6 C558.8,571.4 558.0,576.6 556.4,581.2 C554.7,585.7 552.2,590.3 549.1,594.0 C546.1,597.8 542.5,601.0 537.9,603.7 C533.3,606.4 527.2,608.8 521.4,610.3 C515.6,611.8 509.0,612.8 503.3,612.7 C497.5,612.6 492.8,611.2 486.9,609.4 C481.1,607.6 473.7,603.8 468.2,601.8 C462.6,599.8 457.9,597.5 453.6,597.3 C449.3,597.2 446.3,599.4 442.3,600.9 C438.2,602.3 433.5,605.5 429.2,605.9 C425.0,606.4 420.5,605.3 416.9,603.6 C413.3,601.9 409.9,598.6 407.6,595.7 C405.3,592.9 403.9,589.9 403.0,586.5 C402.1,583.1 401.9,579.3 402.2,575.4Z" fill="url(#vac2)"/>
<circle cx="514.4" cy="551.7" r="3.4" fill="#c22e37"/>
<circle cx="541.9" cy="555" r="3.4" fill="#c22e37"/>
<circle cx="486.4" cy="558.9" r="3.4" fill="#c22e37"/>
<circle cx="423.1" cy="573.1" r="3.4" fill="#c22e37"/>
<circle cx="477.2" cy="576.6" r="3.4" fill="#c22e37"/>
<circle cx="530.7" cy="580.3" r="3.4" fill="#c22e37"/>
<circle cx="503.2" cy="586" r="3.4" fill="#c22e37"/>
<circle cx="426.4" cy="592.4" r="3.4" fill="#c22e37"/>
<ellipse cx="497.2" cy="544.3" rx="8.3" ry="10.3" fill="url(#gran)"/>
<ellipse cx="520.4" cy="592.9" rx="8.3" ry="10.3" fill="url(#gran)"/>
<circle cx="220" cy="352" r="18.9" fill="url(#ves)" stroke="#e3d5c6" stroke-width="2.8"/>
<circle cx="212.1" cy="347.8" r="3.4" fill="#c22e37"/>
<circle cx="221.3" cy="364.2" r="3.4" fill="#c22e37"/>
<ellipse cx="225.8" cy="350" rx="8" ry="10.1" fill="url(#gran)"/>
<circle cx="263" cy="392" r="27" fill="url(#ves)" stroke="#e3d5c6" stroke-width="2.8"/>
<circle cx="251" cy="381.8" r="3.4" fill="#c22e37"/>
<circle cx="248" cy="394.3" r="3.4" fill="#c22e37"/>
<circle cx="274.4" cy="391.2" r="3.4" fill="#c22e37"/>
<ellipse cx="263" cy="403.3" rx="8.3" ry="10.3" fill="url(#gran)"/>
<ellipse cx="528.9" cy="208.4" rx="8.3" ry="10.3" fill="url(#gran)"/>
<circle cx="522.9" cy="227.3" r="3.1" fill="#c22e37"/>
<circle cx="827" cy="86.7" r="3.4" fill="#c22e37"/>
<ellipse cx="690" cy="395.2" rx="8.3" ry="10.3" fill="url(#gran)"/>
<circle cx="706.3" cy="414.9" r="3.4" fill="#c22e37"/>
<circle cx="686.6" cy="424.3" r="3.4" fill="#c22e37"/>
<ellipse cx="772.6" cy="558.2" rx="8.3" ry="10.3" fill="url(#gran)"/>
<circle cx="321.4" cy="436.6" r="3.4" fill="#c22e37"/>
<path d="M443.2,127.1 Q505,140 562,129" fill="none" stroke="#3d3d45" stroke-width="2.2" stroke-dasharray="13.8 14"/>
<path d="M585.2,122.7 L559.9,123.4 L563.5,135.6Z" fill="#4a4a4a"/>
<path d="M392.3,248 C398,262 440,265 548,272" fill="none" stroke="#3d3d45" stroke-width="2.2" stroke-dasharray="13.8 14"/>
<path d="M573.2,272.1 L548.2,265.3 L548.2,278.5Z" fill="#4a4a4a"/>
<path d="M311.6,297.5 Q345,350 397,382" fill="none" stroke="#3d3d45" stroke-width="2.2" stroke-dasharray="13.8 14"/>
<path d="M419.6,391 L400.3,376.3 L394.9,388Z" fill="#4a4a4a"/>
<path d="M196.3,264.5 Q189,290 193,310" fill="none" stroke="#3d3d45" stroke-width="2.2" stroke-dasharray="13.8 14"/>
<path d="M200.8,330.5 L186.4,309.8 L198.5,305.5Z" fill="#4a4a4a"/>
<path d="M287.7,425.1 Q306,492 370,535" fill="none" stroke="#3d3d45" stroke-width="2.2" stroke-dasharray="13.8 14"/>
<path d="M393.1,543.4 L368.6,537.8 L374.2,526.7Z" fill="#4a4a4a"/>
<path d="M595.9,558.9 C690,548 770,480 812,382" fill="none" stroke="#3d3d45" stroke-width="2.2" stroke-dasharray="13.8 14"/>
<path d="M823.9,360.5 L807.5,378.9 L820,384.5Z" fill="#4a4a4a"/>
<text x="186.5" y="137.4" font-family="Liberation Serif" font-weight="bold" font-size="24" fill="#2a2526" stroke="#2a2526" stroke-width="0.3">Endoplasmic</text>
<text x="186.5" y="166.2" font-family="Liberation Serif" font-weight="bold" font-size="24" fill="#2a2526" stroke="#2a2526" stroke-width="0.3">reticulum</text>
<text x="616.6" y="59.8" font-family="Liberation Serif" font-weight="bold" font-size="24" fill="#2a2526" stroke="#2a2526" stroke-width="0.3">plastid</text>
<text x="623.3" y="233.3" font-family="Liberation Serif" font-weight="bold" font-size="24" fill="#2a2526" stroke="#2a2526" stroke-width="0.3">plastid</text>
<text x="472.4" y="384.4" font-family="Liberation Serif" font-weight="bold" font-size="24" fill="#2a2526" stroke="#2a2526" stroke-width="0.3">plastid</text>
<text x="162.1" y="395.6" font-family="Liberation Serif" font-weight="bold" font-size="24" fill="#2a2526" stroke="#2a2526" stroke-width="0.3">vesicle</text>
<text x="402.4" y="531" font-family="Liberation Serif" font-weight="bold" font-size="24" fill="#2a2526" stroke="#2a2526" stroke-width="0.3">vacuole</text>
<text x="899.7" y="331.4" font-family="Liberation Serif" font-weight="bold" font-size="24" fill="#2a2526" stroke="#2a2526" stroke-width="0.3">vacuole</text>
</svg>
</body></html>
